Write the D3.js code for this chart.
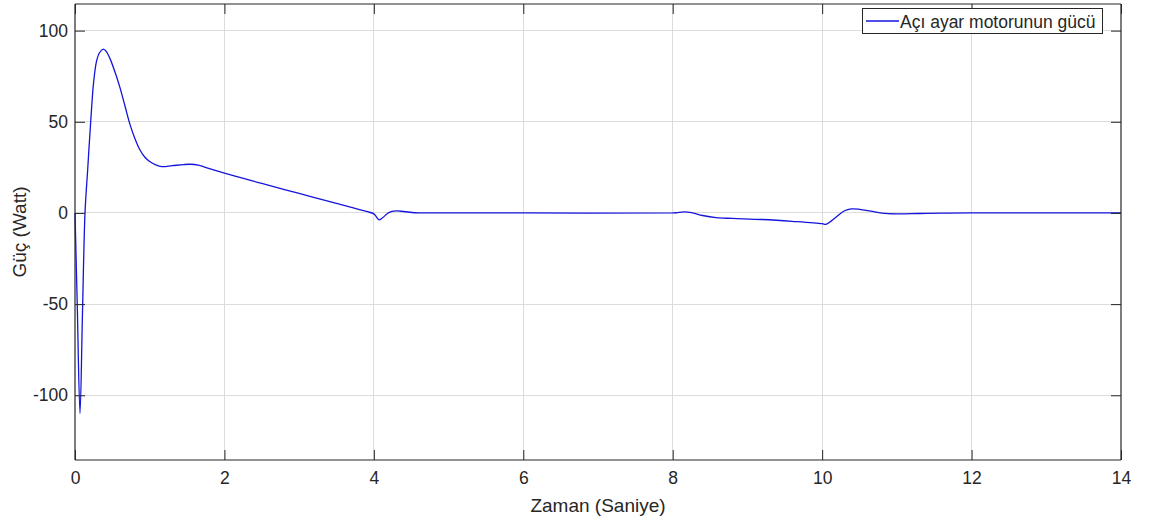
<!DOCTYPE html>
<html>
<head>
<meta charset="utf-8">
<script src="https://cdn.jsdelivr.net/npm/d3@7"></script>
<style>
  body { margin: 0; background: #fff; }
  svg text { font-family: "Liberation Sans", Arial, sans-serif; fill: #262626; }
</style>
</head>
<body>
<svg id="chart" width="1151" height="523"></svg>
<script>
// Time samples (s) and the pitch-motor power (W)
const time = [0, 0.03, 0.067, 0.10, 0.134, 0.17, 0.21, 0.25, 0.29, 0.33, 0.38, 0.42, 0.47, 0.55, 0.60, 0.67, 0.74,
  0.80, 0.87, 0.93, 1.00, 1.08, 1.16, 1.30, 1.45, 1.54, 1.65, 1.80, 2.00, 2.50, 3.00, 3.50, 3.90, 4.00,
  4.04, 4.07, 4.12, 4.20, 4.30, 4.40, 4.55, 4.80, 6.00, 8.00, 8.05, 8.15, 8.25, 8.40, 8.58, 8.80, 9.20,
  9.60, 10.00, 10.05, 10.12, 10.20, 10.30, 10.39, 10.50, 10.65, 10.80, 11.00, 11.30, 11.60, 12.00, 14.00];
const power = [0, -50, -110, -55, 0, 24, 50, 72, 83.5, 88, 89.8, 88.5, 84.5, 75.5, 69, 58.5, 48,
  41, 34.5, 30.8, 28.2, 26.4, 25.4, 25.9, 26.5, 26.7, 26.2, 24.3, 21.8, 16.2, 10.7, 5.2, 0.8, -0.5,
  -2.5, -3.8, -2.5, 0.2, 1.1, 0.8, 0.1, 0, 0, 0, 0.1, 0.6, 0.2, -1.4, -2.6, -3.0, -3.6,
  -4.6, -5.9, -6.3, -4.5, -1.8, 1.2, 2.2, 2.0, 1.0, -0.1, -0.5, -0.3, -0.1, 0, 0];

const xTicks = [0, 2, 4, 6, 8, 10, 12, 14];
const yTicks = [-100, -50, 0, 50, 100];
const xTitle = "Zaman (Saniye)";
const yTitle = "Güç (Watt)";
const seriesName = "Açı ayar motorunun gücü";

const svg = d3.select("#chart");
const box = { left: 75, right: 1121, top: 4, bottom: 460 };

const x = d3.scaleLinear().domain([0, 14]).range([box.left, box.right]);
const y = d3.scaleLinear().domain([-135.5, 114.6]).range([box.bottom, box.top]);

const axisColor = "#262626";
const gridColor = "#dcdcdc";
const plain = d => String(d);

// grid
const grid = svg.append("g");
grid.selectAll(".gx").data(xTicks.slice(1, -1)).join("line")
  .attr("x1", d => x(d)).attr("x2", d => x(d))
  .attr("y1", box.top).attr("y2", box.bottom)
  .attr("stroke", gridColor).attr("stroke-width", 1).attr("shape-rendering", "crispEdges");
grid.selectAll(".gy").data(yTicks).join("line")
  .attr("x1", box.left).attr("x2", box.right)
  .attr("y1", d => y(d)).attr("y2", d => y(d))
  .attr("stroke", gridColor).attr("stroke-width", 1).attr("shape-rendering", "crispEdges");

// data line
const line = d3.line()
  .x((d, i) => x(time[i]))
  .y((d, i) => y(power[i]))
  .curve(d3.curveCatmullRom.alpha(0.5));
svg.append("path")
  .datum(power)
  .attr("d", line)
  .attr("fill", "none")
  .attr("stroke", "#1414dc")
  .attr("stroke-width", 1.3);

// axes with inward ticks (bottom/left labelled, top/right unlabelled)
const tickLen = 10;
const fontSize = 17.5;
const axB = svg.append("g").attr("transform", `translate(0,${box.bottom})`)
  .call(d3.axisBottom(x).tickValues(xTicks).tickSize(-tickLen).tickPadding(12).tickFormat(plain));
const axT = svg.append("g").attr("transform", `translate(0,${box.top})`)
  .call(d3.axisTop(x).tickValues(xTicks).tickSize(-tickLen).tickFormat(""));
const axL = svg.append("g").attr("transform", `translate(${box.left},0)`)
  .call(d3.axisLeft(y).tickValues(yTicks).tickSize(-tickLen).tickPadding(7).tickFormat(plain));
const axR = svg.append("g").attr("transform", `translate(${box.right},0)`)
  .call(d3.axisRight(y).tickValues(yTicks).tickSize(-tickLen).tickFormat(""));

[axB, axT, axL, axR].forEach(g => {
  g.select(".domain").attr("stroke", axisColor).attr("stroke-width", 1.2);
  g.selectAll(".tick line").attr("stroke", axisColor).attr("stroke-width", 1);
  g.selectAll(".tick text").attr("fill", axisColor)
    .style("font-family", '"Liberation Sans", Arial, sans-serif').style("font-size", fontSize + "px");
});
// plain frame edges without outer tick stubs
[axB, axT].forEach(g => g.select(".domain").attr("d", `M${box.left},0H${box.right}`));
[axL, axR].forEach(g => g.select(".domain").attr("d", `M0,${box.top}V${box.bottom}`));

// axis titles
svg.append("text")
  .attr("x", (box.left + box.right) / 2).attr("y", 512)
  .attr("text-anchor", "middle").style("font-size", "19px").text(xTitle);
svg.append("text")
  .attr("transform", `translate(26,${(box.top + box.bottom) / 2}) rotate(-90)`)
  .attr("text-anchor", "middle").style("font-size", "19px").text(yTitle);

// legend
const lg = svg.append("g");
lg.append("rect").attr("x", 862.5).attr("y", 8.5).attr("width", 240).attr("height", 25)
  .attr("fill", "#fff").attr("stroke", axisColor).attr("stroke-width", 1);
lg.append("line").attr("x1", 866).attr("x2", 899).attr("y1", 21).attr("y2", 21)
  .attr("stroke", "#1414dc").attr("stroke-width", 1.3);
lg.append("text").attr("x", 900).attr("y", 27.5).style("font-size", fontSize + "px").text(seriesName);
</script>
</body>
</html>
